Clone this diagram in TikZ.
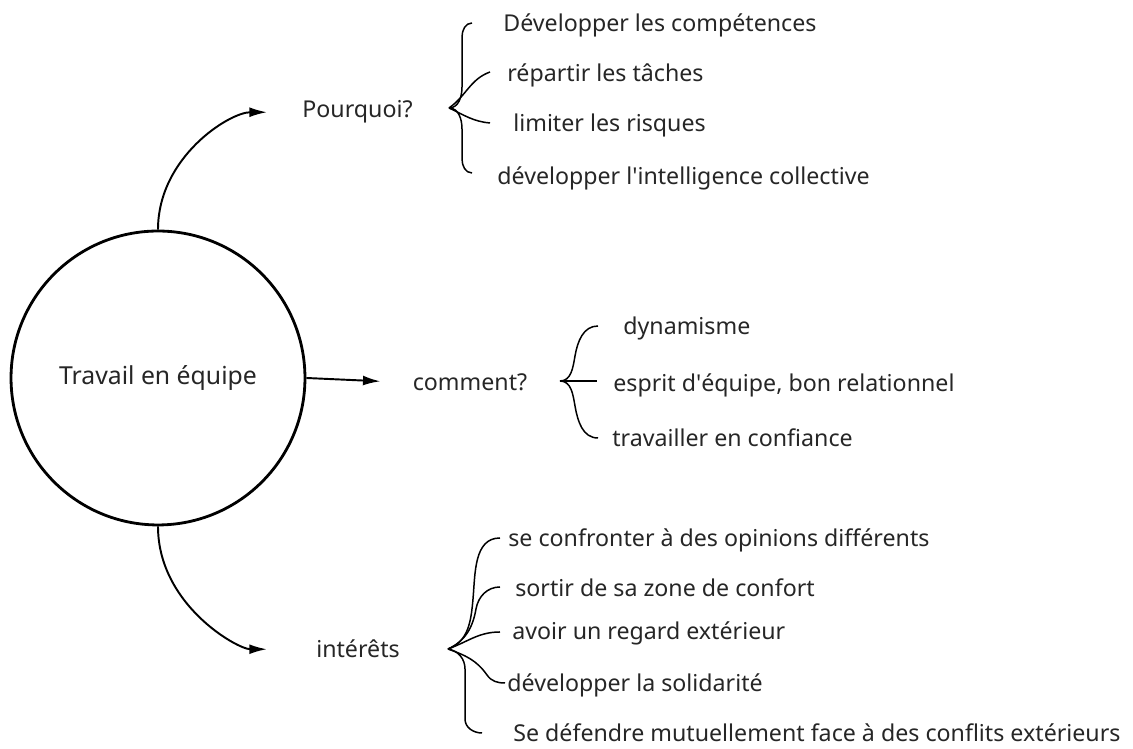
\documentclass[tikz,border=0pt]{standalone}
\usepackage{fontspec}
\setmainfont{Noto Sans}
\usetikzlibrary{arrows.meta}

\begin{document}
\begin{tikzpicture}[x=0.02cm, y=0.02cm, font=\fontsize{13.2}{16}\selectfont, text=black!85,
  txt/.style={anchor=base west, inner sep=0pt},
  qst/.style={anchor=base, inner sep=0pt},
  arr/.style={line width=1.1pt, -{Latex[length=10pt, width=5.6pt]}},
  brc/.style={line width=0.85pt}]
\useasboundingbox (0, 0) rectangle (1133, 749);
\node[draw, circle, line width=1.6pt, minimum size=5.88cm, inner sep=0pt, font=\fontsize{14.1}{17}\selectfont] (te) at (158, 371) {Travail en équipe};

\node[qst] (pq) at (357.5, 631) {Pourquoi?};
\node[qst] (cm) at (470, 358) {comment?};
\node[qst] (it) at (358, 91) {intérêts};

\node[txt] (p1) at (503, 717) {Développer les compétences};
\node[txt] (p2) at (507, 667) {répartir les tâches};
\node[txt] (p3) at (513, 617) {limiter les risques};
\node[txt] (p4) at (497, 564) {développer l\textquotesingle intelligence collective};

\node[txt] (c1) at (623, 414) {dynamisme};
\node[txt] (c2) at (613, 357) {esprit d\textquotesingle équipe, bon relationnel};
\node[txt] (c3) at (612, 302) {travailler en confiance};

\node[txt] (i1) at (508, 202) {se confronter à des opinions différents};
\node[txt] (i2) at (515, 152) {sortir de sa zone de confort};
\node[txt] (i3) at (512, 109) {avoir un regard extérieur};
\node[txt] (i4) at (507, 57) {développer la solidarité};
\node[txt] (i5) at (513, 7) {Se défendre mutuellement face à des conflits extérieurs};

\coordinate (bp) at (449, 641);
\coordinate (bc) at (560, 368);
\coordinate (bi) at (448, 100);

\draw[arr, shorten >=0.7cm] (te.north) to[out=90, in=180] (pq.west);
\draw[arr, shorten >=0.64cm] (te.east) -- (cm.west);
\draw[arr, shorten >=0.98cm] (te.south) to[out=-90, in=180] (it.west);

\draw[brc] (bp) to[out=0, in=-90] (462, 662) -- (462, 712) to[out=90, in=180] (472, 726);
\draw[brc] (bp) to[out=0, in=90] (462, 620) -- (462, 590) to[out=-90, in=180] (472, 576);
\draw[brc] (bp) to[out=35, in=200] (490, 677);
\draw[brc] (bp) to[out=-25, in=175] (490, 626);

\draw[brc] (bc) to[out=0, in=-100] (575, 393) to[out=80, in=180] (598, 423);
\draw[brc] (bc) to[out=0, in=100] (575, 343) to[out=-80, in=180] (598, 311);
\draw[brc] (bc) -- (597, 368);

\draw[brc] (bi) to[out=20, in=-95] (473, 150) to[out=85, in=180] (500, 211);
\draw[brc] (bi) to[out=25, in=-100] (476, 140) to[out=80, in=180] (500, 162);
\draw[brc] (bi) to[out=20, in=180] (500, 117);
\draw[brc] (bi) to[out=-20, in=125] (487, 74) to[out=-55, in=180] (505, 66);
\draw[brc] (bi) to[out=-10, in=90] (465, 80) -- (465, 30) to[out=-90, in=180] (482, 16);
\end{tikzpicture}
\end{document}
